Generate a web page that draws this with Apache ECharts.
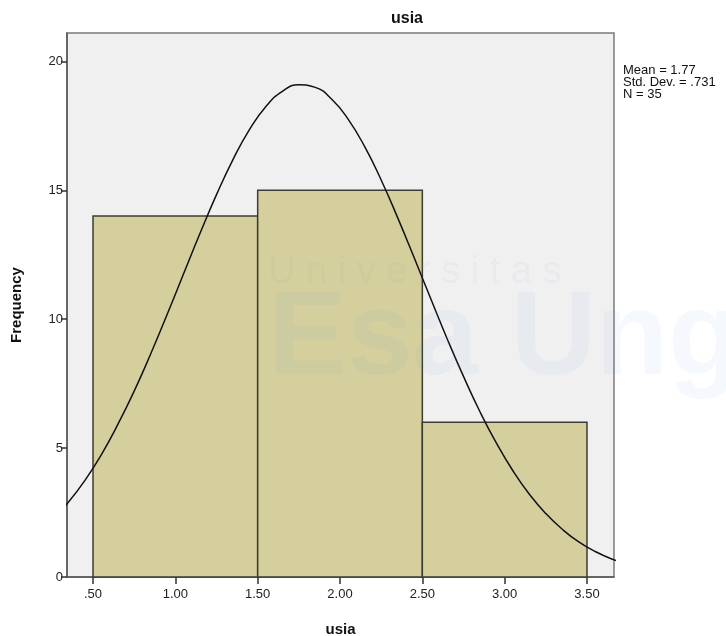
<!DOCTYPE html>
<html>
<head>
<meta charset="utf-8">
<script src="https://cdn.jsdelivr.net/npm/echarts@6/dist/echarts.min.js"></script>
<style>
html,body{margin:0;padding:0;background:#fff;}
#chart{width:726px;height:636px;}
</style>
</head>
<body>
<div id="chart"></div>
<script>
// Histogram bins: [lower, upper] and frequencies
const binStarts = [0.5, 1.5, 2.5];
const binEnds = [1.5, 2.5, 3.5];
const frequencies = [14, 15, 6];
// Normal curve (x, frequency)
const curveX = [0.25,0.35,0.45,0.55,0.65,0.75,0.85,0.95,1.05,1.15,1.25,1.35,1.45,1.55,1.65,1.75,1.85,1.95,2.05,2.15,2.25,2.35,2.45,2.55,2.65,2.75,2.85,2.95,3.05,3.15,3.25,3.35,3.45,3.55,3.65,3.75];
const curveY = [2.20,2.90,3.74,4.74,5.91,7.21,8.65,10.18,11.76,13.33,14.83,16.19,17.35,18.25,18.84,19.09,18.99,18.53,17.75,16.69,15.40,13.94,12.39,10.81,9.25,7.78,6.41,5.19,4.12,3.21,2.46,1.85,1.36,0.99,0.70,0.49];
const xTicks = [0.5,1.0,1.5,2.0,2.5,3.0,3.5];
const yTicks = [0,5,10,15,20];
const statsLines = ['Mean = 1.77','Std. Dev. = .731','N = 35'];

const chart = echarts.init(document.getElementById('chart'));
const font = 'Liberation Sans, Arial, sans-serif';
const histData = binStarts.map((s,i)=>[s, binEnds[i], frequencies[i]]);
const lineData = curveX.map((x,i)=>[x, curveY[i]]);

chart.setOption({
  animation: false,
  backgroundColor: '#ffffff',
  title: {
    text: 'usia', left: 402, top: 6, textAlign: 'center',
    textStyle: {fontFamily: font, fontSize: 16, fontWeight: 'bold', color: '#111'}
  },
  grid: {
    left: 67, right: 112, top: 33, bottom: 59,
    outerBoundsMode: 'none', containLabel: false,
    show: true, backgroundColor: '#f0f0f0', borderColor: '#7a7a7a', borderWidth: 1.5
  },
  xAxis: {
    type: 'value', min: 0.342, max: 3.664,
    name: 'usia', nameLocation: 'middle', nameGap: 45,
    nameTextStyle: {fontFamily: font, fontSize: 15, fontWeight: 'bold', color: '#111'},
    axisLine: {show: true, lineStyle: {color: '#555', width: 1.5}},
    splitLine: {show: false},
    axisTick: {show: true, length: 7, lineStyle: {color: '#333', width: 1.5}, customValues: xTicks},
    axisLabel: {
      customValues: xTicks, margin: 11,
      fontFamily: font, fontSize: 13, color: '#222',
      formatter: v => v.toFixed(2).replace(/^0/, '')
    }
  },
  yAxis: {
    type: 'value', min: 0, max: 21.1,
    name: 'Frequency', nameLocation: 'middle', nameGap: 43, nameRotate: 90,
    nameTextStyle: {fontFamily: font, fontSize: 15, fontWeight: 'bold', color: '#111'},
    axisLine: {show: true, lineStyle: {color: '#555', width: 1.5}},
    splitLine: {show: false},
    axisTick: {show: true, length: 6, lineStyle: {color: '#333', width: 1.5}, customValues: yTicks},
    axisLabel: {customValues: yTicks, margin: 4, fontFamily: font, fontSize: 13, color: '#222'}
  },
  series: [
    {
      type: 'custom',
      data: histData,
      encode: {x: [0, 1], y: 2},
      renderItem: function(params, api) {
        const p0 = api.coord([api.value(0), api.value(2)]);
        const p1 = api.coord([api.value(1), 0]);
        return {
          type: 'rect',
          shape: {x: p0[0], y: p0[1], width: p1[0] - p0[0], height: p1[1] - p0[1]},
          style: {fill: '#d4cf9c', stroke: '#3c3c34', lineWidth: 1.5}
        };
      },
      z: 2
    },
    {
      type: 'line',
      data: lineData,
      smooth: true,
      showSymbol: false,
      lineStyle: {color: '#111', width: 1.5},
      clip: true,
      z: 3
    }
  ],
  graphic: [
    {
      type: 'text', left: 623, top: 64, silent: true,
      style: {
        text: statsLines.join('\n'), fontFamily: font, fontSize: 13,
        lineHeight: 12, fill: '#111'
      }
    },
    {
      type: 'text', left: 268, top: 254, silent: true, z: 100,
      style: {text: 'U n i v e r s i t a s', fontFamily: font, fontSize: 38, fill: 'rgba(120,150,200,0.06)'}
    },
    {
      type: 'text', left: 268, top: 282, silent: true, z: 100,
      style: {text: 'Esa Ung', fontFamily: font, fontSize: 118, fontWeight: 'bold', fill: 'rgba(120,150,210,0.07)'}
    }
  ]
});
</script>
</body>
</html>
